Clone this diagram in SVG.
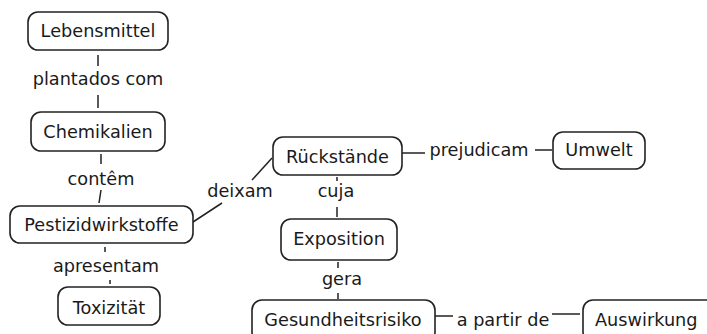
<svg xmlns="http://www.w3.org/2000/svg" width="707" height="334" viewBox="0 0 707 334">
<style>
.n rect{fill:#fff;stroke:#222;stroke-width:1.6}
text{font-family:"DejaVu Sans",Verdana,sans-serif;font-size:17.7px;fill:#1a1a1a;text-anchor:middle}
.c line{stroke:#222;stroke-width:1.5}
</style>
<rect width="707" height="334" fill="#fff"/>
<g class="c" id="connectors">
<line x1="98" y1="55" x2="98" y2="66"/>
<line x1="98" y1="95" x2="98" y2="108"/>
<line x1="101" y1="154" x2="101" y2="164"/>
<line x1="101" y1="190" x2="99" y2="203"/>
<line x1="105" y1="247" x2="105" y2="252"/>
<line x1="110" y1="280" x2="110" y2="284"/>
<line x1="193" y1="222" x2="222" y2="203"/>
<line x1="252" y1="180" x2="272" y2="158"/>
<line x1="402" y1="153" x2="425" y2="153"/>
<line x1="535" y1="150" x2="552" y2="150"/>
<line x1="337" y1="177" x2="337" y2="181"/>
<line x1="337" y1="207" x2="337" y2="217"/>
<line x1="338" y1="262" x2="338" y2="268"/>
<line x1="338" y1="293" x2="338" y2="299"/>
<line x1="435" y1="316" x2="453" y2="316"/>
<line x1="552" y1="314" x2="580" y2="314"/>
<text x="98" y="85">plantados com</text>
<text x="101" y="185">contêm</text>
<text x="106" y="272">apresentam</text>
<text x="240" y="197">deixam</text>
<text x="479" y="156">prejudicam</text>
<text x="336" y="197">cuja</text>
<text x="342" y="285">gera</text>
<text x="503" y="326">a partir de</text>
</g>
<g class="n" id="lebensmittel"><rect x="28" y="12" width="140" height="38" rx="10"/><text x="98" y="37">Lebensmittel</text></g>
<g class="n" id="chemikalien"><rect x="31" y="112" width="134" height="39" rx="10"/><text x="98" y="138">Chemikalien</text></g>
<g class="n" id="pestizidwirkstoffe"><rect x="10" y="206" width="183" height="37" rx="10"/><text x="101.5" y="231">Pestizidwirkstoffe</text></g>
<g class="n" id="toxizitaet"><rect x="58" y="287" width="102" height="38" rx="10"/><text x="109" y="314">Toxizität</text></g>
<g class="n" id="rueckstaende"><rect x="273" y="137" width="129" height="38" rx="10"/><text x="337.5" y="163">Rückstände</text></g>
<g class="n" id="umwelt"><rect x="553" y="132" width="92" height="37" rx="10"/><text x="599" y="156">Umwelt</text></g>
<g class="n" id="exposition"><rect x="281" y="219" width="116" height="41" rx="10"/><text x="339" y="245">Exposition</text></g>
<g class="n" id="gesundheitsrisiko"><rect x="252" y="300" width="183" height="42" rx="10"/><text x="343" y="326">Gesundheitsrisiko</text></g>
<g class="n" id="auswirkung"><rect x="583" y="300" width="140" height="42" rx="10"/><text x="595" y="326" style="text-anchor:start">Auswirkung</text></g>
</svg>
